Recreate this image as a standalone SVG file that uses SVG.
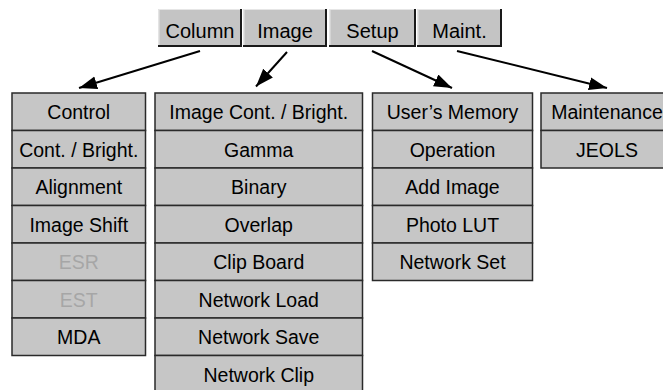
<svg xmlns="http://www.w3.org/2000/svg" width="663" height="390" viewBox="0 0 663 390">
<defs>
<style>
.btn{fill:#c4c4c4}
.hl{stroke:#e6e6e6;stroke-width:1;fill:none}
.sh{stroke:#1a1a1a;stroke-width:2;fill:none}
.cell{fill:#c6c6c6;stroke:#2a2a2a;stroke-width:1.5}
.t{font-family:"Liberation Sans",Arial,sans-serif;font-size:19.5px;fill:#000;text-anchor:middle}
.bt{font-family:"Liberation Sans",Arial,sans-serif;font-size:20px;fill:#000;text-anchor:middle}
.dis{fill:#a6a6a6}
.conn{stroke:#000;stroke-width:2;fill:none;marker-end:url(#ah)}
</style>
<marker id="ah" markerUnits="userSpaceOnUse" markerWidth="20" markerHeight="14" refX="18" refY="6.5" orient="auto">
<path d="M0,0 L18,6.5 L0,13 Z" fill="#000"/>
</marker>
</defs>

<g id="menu-column">
<rect class="btn" x="158.5" y="9" width="83" height="37"/>
<path class="hl" d="M159,45 V9.5 H241"/>
<path class="sh" d="M241,9 V46 H158"/>
<text class="bt" x="200" y="37.5">Column</text>
</g>
<g id="menu-image">
<rect class="btn" x="243.5" y="9" width="83" height="37"/>
<path class="hl" d="M244,45 V9.5 H326"/>
<path class="sh" d="M326,9 V46 H243"/>
<text class="bt" x="285" y="37.5">Image</text>
</g>
<g id="menu-setup">
<rect class="btn" x="329.5" y="9" width="86" height="37"/>
<path class="hl" d="M330,45 V9.5 H415"/>
<path class="sh" d="M415,9 V46 H329"/>
<text class="bt" x="372.5" y="37.5">Setup</text>
</g>
<g id="menu-maint">
<rect class="btn" x="417.5" y="9" width="84" height="37"/>
<path class="hl" d="M418,45 V9.5 H501"/>
<path class="sh" d="M501,9 V46 H417"/>
<text class="bt" x="459.5" y="37.5">Maint.</text>
</g>

<g id="connectors">
<line class="conn" x1="200" y1="51" x2="79" y2="88"/>
<line class="conn" x1="287" y1="52" x2="256" y2="86.5"/>
<line class="conn" x1="372" y1="51" x2="452" y2="88"/>
<line class="conn" x1="457" y1="51" x2="607" y2="88"/>
</g>

<g id="list-column">
<rect class="cell" x="12" y="93" width="133.5" height="37.5"/>
<rect class="cell" x="12" y="130.5" width="133.5" height="37.5"/>
<rect class="cell" x="12" y="168" width="133.5" height="37.5"/>
<rect class="cell" x="12" y="205.5" width="133.5" height="37.5"/>
<rect class="cell" x="12" y="243" width="133.5" height="37.5"/>
<rect class="cell" x="12" y="280.5" width="133.5" height="37.5"/>
<rect class="cell" x="12" y="318" width="133.5" height="37.5"/>
<text class="t" x="78.75" y="119.3">Control</text>
<text class="t" x="78.75" y="156.8">Cont. / Bright.</text>
<text class="t" x="78.75" y="194.3">Alignment</text>
<text class="t" x="78.75" y="231.8">Image Shift</text>
<text class="t dis" x="78.75" y="269.3">ESR</text>
<text class="t dis" x="78.75" y="306.8">EST</text>
<text class="t" x="78.75" y="344.3">MDA</text>
</g>

<g id="list-image">
<rect class="cell" x="155" y="93" width="207.5" height="37.5"/>
<rect class="cell" x="155" y="130.5" width="207.5" height="37.5"/>
<rect class="cell" x="155" y="168" width="207.5" height="37.5"/>
<rect class="cell" x="155" y="205.5" width="207.5" height="37.5"/>
<rect class="cell" x="155" y="243" width="207.5" height="37.5"/>
<rect class="cell" x="155" y="280.5" width="207.5" height="37.5"/>
<rect class="cell" x="155" y="318" width="207.5" height="37.5"/>
<rect class="cell" x="155" y="355.5" width="207.5" height="37.5"/>
<text class="t" x="258.75" y="119.3">Image Cont. / Bright.</text>
<text class="t" x="258.75" y="156.8">Gamma</text>
<text class="t" x="258.75" y="194.3">Binary</text>
<text class="t" x="258.75" y="231.8">Overlap</text>
<text class="t" x="258.75" y="269.3">Clip Board</text>
<text class="t" x="258.75" y="306.8">Network Load</text>
<text class="t" x="258.75" y="344.3">Network Save</text>
<text class="t" x="258.75" y="381.8">Network Clip</text>
</g>

<g id="list-setup">
<rect class="cell" x="372.5" y="93" width="160" height="37.5"/>
<rect class="cell" x="372.5" y="130.5" width="160" height="37.5"/>
<rect class="cell" x="372.5" y="168" width="160" height="37.5"/>
<rect class="cell" x="372.5" y="205.5" width="160" height="37.5"/>
<rect class="cell" x="372.5" y="243" width="160" height="37.5"/>
<text class="t" x="452.5" y="119.3">User’s Memory</text>
<text class="t" x="452.5" y="156.8">Operation</text>
<text class="t" x="452.5" y="194.3">Add Image</text>
<text class="t" x="452.5" y="231.8">Photo LUT</text>
<text class="t" x="452.5" y="269.3">Network Set</text>
</g>

<g id="list-maint">
<rect class="cell" x="541" y="93" width="132" height="37.5"/>
<rect class="cell" x="541" y="130.5" width="132" height="37.5"/>
<text class="t" x="607" y="119.3">Maintenance</text>
<text class="t" x="607" y="156.8">JEOLS</text>
</g>
</svg>
